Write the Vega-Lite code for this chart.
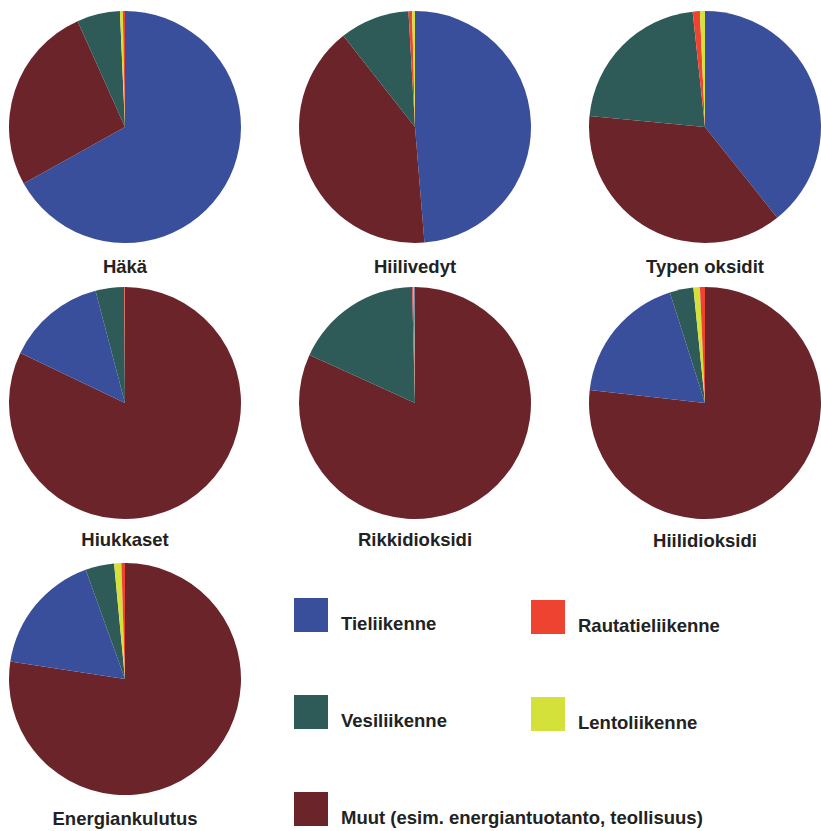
{
  "$schema": "https://vega.github.io/schema/vega-lite/v6.json",
  "background": "#ffffff",
  "padding": {"left": 9, "top": 11, "right": 0, "bottom": 0},
  "data": {
    "values": [
      {"aine": "Häkä", "liikenne": "Tieliikenne", "osuus": 66.9},
      {"aine": "Häkä", "liikenne": "Muut (esim. energiantuotanto, teollisuus)", "osuus": 26.4},
      {"aine": "Häkä", "liikenne": "Vesiliikenne", "osuus": 6.0},
      {"aine": "Häkä", "liikenne": "Lentoliikenne", "osuus": 0.4},
      {"aine": "Häkä", "liikenne": "Rautatieliikenne", "osuus": 0.3},

      {"aine": "Hiilivedyt", "liikenne": "Tieliikenne", "osuus": 48.7},
      {"aine": "Hiilivedyt", "liikenne": "Muut (esim. energiantuotanto, teollisuus)", "osuus": 40.7},
      {"aine": "Hiilivedyt", "liikenne": "Vesiliikenne", "osuus": 9.7},
      {"aine": "Hiilivedyt", "liikenne": "Rautatieliikenne", "osuus": 0.5},
      {"aine": "Hiilivedyt", "liikenne": "Lentoliikenne", "osuus": 0.4},

      {"aine": "Typen oksidit", "liikenne": "Tieliikenne", "osuus": 39.3},
      {"aine": "Typen oksidit", "liikenne": "Muut (esim. energiantuotanto, teollisuus)", "osuus": 37.2},
      {"aine": "Typen oksidit", "liikenne": "Vesiliikenne", "osuus": 21.8},
      {"aine": "Typen oksidit", "liikenne": "Rautatieliikenne", "osuus": 1.0},
      {"aine": "Typen oksidit", "liikenne": "Lentoliikenne", "osuus": 0.7},

      {"aine": "Hiukkaset", "liikenne": "Muut (esim. energiantuotanto, teollisuus)", "osuus": 82.1},
      {"aine": "Hiukkaset", "liikenne": "Tieliikenne", "osuus": 13.8},
      {"aine": "Hiukkaset", "liikenne": "Vesiliikenne", "osuus": 4.0},
      {"aine": "Hiukkaset", "liikenne": "Rautatieliikenne", "osuus": 0.1},
      {"aine": "Hiukkaset", "liikenne": "Lentoliikenne", "osuus": 0.0},

      {"aine": "Rikkidioksidi", "liikenne": "Muut (esim. energiantuotanto, teollisuus)", "osuus": 81.8},
      {"aine": "Rikkidioksidi", "liikenne": "Vesiliikenne", "osuus": 17.8},
      {"aine": "Rikkidioksidi", "liikenne": "Rautatieliikenne", "osuus": 0.2},
      {"aine": "Rikkidioksidi", "liikenne": "Lentoliikenne", "osuus": 0.1},
      {"aine": "Rikkidioksidi", "liikenne": "Tieliikenne", "osuus": 0.1},

      {"aine": "Hiilidioksidi", "liikenne": "Muut (esim. energiantuotanto, teollisuus)", "osuus": 76.8},
      {"aine": "Hiilidioksidi", "liikenne": "Tieliikenne", "osuus": 18.3},
      {"aine": "Hiilidioksidi", "liikenne": "Vesiliikenne", "osuus": 3.3},
      {"aine": "Hiilidioksidi", "liikenne": "Lentoliikenne", "osuus": 0.9},
      {"aine": "Hiilidioksidi", "liikenne": "Rautatieliikenne", "osuus": 0.7},

      {"aine": "Energiankulutus", "liikenne": "Muut (esim. energiantuotanto, teollisuus)", "osuus": 77.4},
      {"aine": "Energiankulutus", "liikenne": "Tieliikenne", "osuus": 17.1},
      {"aine": "Energiankulutus", "liikenne": "Vesiliikenne", "osuus": 4.0},
      {"aine": "Energiankulutus", "liikenne": "Lentoliikenne", "osuus": 1.0},
      {"aine": "Energiankulutus", "liikenne": "Rautatieliikenne", "osuus": 0.5}
    ]
  },
  "bounds": "flush",
  "columns": 3,
  "spacing": {"row": 44, "column": 58},
  "resolve": {"scale": {"color": "independent"}},
  "concat": [
    {
      "width": 232, "height": 232,
      "title": {"text": "Häkä", "orient": "bottom", "offset": 15},
      "transform": [{"filter": {"field": "aine", "equal": "Häkä"}}],
      "mark": {"type": "arc"},
      "encoding": {
        "theta": {"field": "osuus", "type": "quantitative", "stack": true},
        "order": {"field": "osuus", "sort": "descending"},
        "color": {"field": "liikenne", "type": "nominal", "title": null, "legend": null,
          "scale": {"domain": ["Tieliikenne", "Vesiliikenne", "Muut (esim. energiantuotanto, teollisuus)", "Rautatieliikenne", "Lentoliikenne"],
                    "range": ["#3a4f9b", "#2e5a58", "#6b242a", "#ef4331", "#d4e13b"]}}
      }
    },
    {
      "width": 232, "height": 232,
      "title": {"text": "Hiilivedyt", "orient": "bottom", "offset": 15},
      "transform": [{"filter": {"field": "aine", "equal": "Hiilivedyt"}}],
      "mark": {"type": "arc"},
      "encoding": {
        "theta": {"field": "osuus", "type": "quantitative", "stack": true},
        "order": {"field": "osuus", "sort": "descending"},
        "color": {"field": "liikenne", "type": "nominal", "title": null, "legend": null,
          "scale": {"domain": ["Tieliikenne", "Vesiliikenne", "Muut (esim. energiantuotanto, teollisuus)", "Rautatieliikenne", "Lentoliikenne"],
                    "range": ["#3a4f9b", "#2e5a58", "#6b242a", "#ef4331", "#d4e13b"]}}
      }
    },
    {
      "width": 232, "height": 232,
      "title": {"text": "Typen oksidit", "orient": "bottom", "offset": 15},
      "transform": [{"filter": {"field": "aine", "equal": "Typen oksidit"}}],
      "mark": {"type": "arc"},
      "encoding": {
        "theta": {"field": "osuus", "type": "quantitative", "stack": true},
        "order": {"field": "osuus", "sort": "descending"},
        "color": {"field": "liikenne", "type": "nominal", "title": null, "legend": null,
          "scale": {"domain": ["Tieliikenne", "Vesiliikenne", "Muut (esim. energiantuotanto, teollisuus)", "Rautatieliikenne", "Lentoliikenne"],
                    "range": ["#3a4f9b", "#2e5a58", "#6b242a", "#ef4331", "#d4e13b"]}}
      }
    },
    {
      "width": 232, "height": 232,
      "title": {"text": "Hiukkaset", "orient": "bottom", "offset": 12},
      "transform": [{"filter": {"field": "aine", "equal": "Hiukkaset"}}],
      "mark": {"type": "arc"},
      "encoding": {
        "theta": {"field": "osuus", "type": "quantitative", "stack": true},
        "order": {"field": "osuus", "sort": "descending"},
        "color": {"field": "liikenne", "type": "nominal", "title": null, "legend": null,
          "scale": {"domain": ["Tieliikenne", "Vesiliikenne", "Muut (esim. energiantuotanto, teollisuus)", "Rautatieliikenne", "Lentoliikenne"],
                    "range": ["#3a4f9b", "#2e5a58", "#6b242a", "#ef4331", "#d4e13b"]}}
      }
    },
    {
      "width": 232, "height": 232,
      "title": {"text": "Rikkidioksidi", "orient": "bottom", "offset": 12},
      "transform": [{"filter": {"field": "aine", "equal": "Rikkidioksidi"}}],
      "mark": {"type": "arc"},
      "encoding": {
        "theta": {"field": "osuus", "type": "quantitative", "stack": true},
        "order": {"field": "osuus", "sort": "descending"},
        "color": {"field": "liikenne", "type": "nominal", "title": null, "legend": null,
          "scale": {"domain": ["Tieliikenne", "Vesiliikenne", "Muut (esim. energiantuotanto, teollisuus)", "Rautatieliikenne", "Lentoliikenne"],
                    "range": ["#3a4f9b", "#2e5a58", "#6b242a", "#ef4331", "#d4e13b"]}}
      }
    },
    {
      "width": 232, "height": 232,
      "title": {"text": "Hiilidioksidi", "orient": "bottom", "offset": 13},
      "transform": [{"filter": {"field": "aine", "equal": "Hiilidioksidi"}}],
      "mark": {"type": "arc"},
      "encoding": {
        "theta": {"field": "osuus", "type": "quantitative", "stack": true},
        "order": {"field": "osuus", "sort": "descending"},
        "color": {"field": "liikenne", "type": "nominal", "title": null, "legend": null,
          "scale": {"domain": ["Tieliikenne", "Vesiliikenne", "Muut (esim. energiantuotanto, teollisuus)", "Rautatieliikenne", "Lentoliikenne"],
                    "range": ["#3a4f9b", "#2e5a58", "#6b242a", "#ef4331", "#d4e13b"]}}
      }
    },
    {
      "width": 232, "height": 232,
      "title": {"text": "Energiankulutus", "orient": "bottom", "offset": 15},
      "transform": [{"filter": {"field": "aine", "equal": "Energiankulutus"}}],
      "mark": {"type": "arc"},
      "encoding": {
        "theta": {"field": "osuus", "type": "quantitative", "stack": true},
        "order": {"field": "osuus", "sort": "descending"},
        "color": {"field": "liikenne", "type": "nominal", "title": null, "legend": null,
          "scale": {"domain": ["Tieliikenne", "Vesiliikenne", "Muut (esim. energiantuotanto, teollisuus)", "Rautatieliikenne", "Lentoliikenne"],
                    "range": ["#3a4f9b", "#2e5a58", "#6b242a", "#ef4331", "#d4e13b"]}}
      }
    },
    {
      "width": 232, "height": 232,
      "data": {"values": []},
      "mark": {"type": "arc"},
      "encoding": {
        "theta": {"field": "osuus", "type": "quantitative", "stack": true},
        "color": {"field": "liikenne", "type": "nominal", "title": null,
          "legend": {"values": ["Tieliikenne", "Vesiliikenne", "Muut (esim. energiantuotanto, teollisuus)"], "legendX": -5, "legendY": 35},
          "scale": {"domain": ["Tieliikenne", "Vesiliikenne", "Muut (esim. energiantuotanto, teollisuus)", "Rautatieliikenne", "Lentoliikenne"],
                    "range": ["#3a4f9b", "#2e5a58", "#6b242a", "#ef4331", "#d4e13b"]}}
      }
    },
    {
      "width": 232, "height": 232,
      "data": {"values": []},
      "mark": {"type": "arc"},
      "encoding": {
        "theta": {"field": "osuus", "type": "quantitative", "stack": true},
        "color": {"field": "liikenne", "type": "nominal", "title": null,
          "legend": {"values": ["Rautatieliikenne", "Lentoliikenne"], "legendX": -58, "legendY": 37},
          "scale": {"domain": ["Tieliikenne", "Vesiliikenne", "Muut (esim. energiantuotanto, teollisuus)", "Rautatieliikenne", "Lentoliikenne"],
                    "range": ["#3a4f9b", "#2e5a58", "#6b242a", "#ef4331", "#d4e13b"]}}
      }
    }
  ],
  "config": {
    "view": {"stroke": null},
    "font": "Liberation Sans",
    "title": {
      "font": "Liberation Sans",
      "fontSize": 18.5,
      "fontWeight": "bold",
      "color": "#222222",
      "anchor": "middle",
      "frame": "group"
    },
    "legend": {
      "orient": "none",
      "padding": 0,
      "direction": "vertical",
      "symbolType": "square",
      "symbolSize": 1156,
      "symbolStrokeWidth": 0,
      "labelFont": "Liberation Sans",
      "labelFontSize": 18.5,
      "labelFontWeight": "bold",
      "labelColor": "#222222",
      "labelBaseline": "top",
      "labelOffset": 13,
      "labelLimit": 600,
      "rowPadding": 61
    }
  }
}
